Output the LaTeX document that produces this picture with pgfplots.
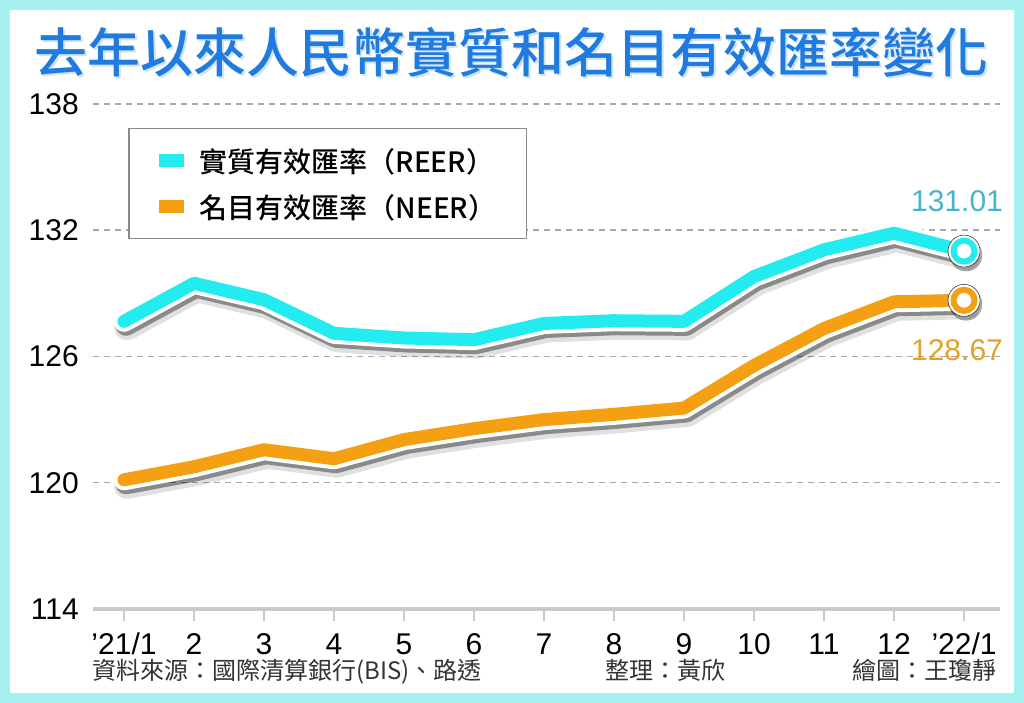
\documentclass[border=0pt]{standalone}
\usepackage{fontspec}
\usepackage{pgfplots}
\pgfplotsset{compat=1.18}
\setmainfont{Liberation Sans}
\newfontfamily\cjk{Noto Sans CJK TC}
\newfontfamily\cjkm{Noto Sans CJK TC Medium}
\definecolor{cyanc}{HTML}{22ECF0}
\definecolor{orangec}{HTML}{F5A012}
\definecolor{titleblue}{HTML}{1F7BDF}
\definecolor{labcyan}{HTML}{44B6CC}
\definecolor{laborange}{HTML}{E3A12B}
\definecolor{gridgray}{HTML}{A8A8A8}
\definecolor{axisgray}{HTML}{CACACA}
\definecolor{framec}{HTML}{A6F0F2}
\definecolor{srcgray}{HTML}{333333}
\definecolor{leggray}{HTML}{8A8A8A}
\pgfplotsset{
  shA/.style={forget plot, mark=none, draw=black, opacity=0.12, line width=26pt, xshift=3pt, yshift=-6pt, line join=round, line cap=round},
  shB/.style={forget plot, mark=none, draw=black, opacity=0.38, line width=21pt, xshift=2pt, yshift=-4pt, line join=round, line cap=round},
  whL/.style={forget plot, mark=none, draw=white, line width=21pt, line join=round, line cap=round},
  colL/.style={mark=none, draw=#1, line width=13pt, line join=round, line cap=round,
     legend image code/.code={\path[fill=#1, draw=none] (0pt,-6.5pt) rectangle (25pt,6.5pt);}},
}
\pgfplotstableread{
x reer neer
0 127.67 120.14
1 129.48 120.76
2 128.70 121.57
3 127.10 121.14
4 126.88 122.05
5 126.80 122.57
6 127.57 123.00
7 127.70 123.25
8 127.67 123.55
9 129.80 125.57
10 131.07 127.33
11 131.86 128.60
12 131.01 128.67
}\ratesdata
\begin{document}
\begin{tikzpicture}[x=1pt,y=1pt]
\fill[white] (0,0) rectangle (1024,703);
\draw[framec, line width=10pt] (5,5) rectangle (1019,698);
\node[font=\cjkm\fontsize{53}{53}\selectfont, text=titleblue!35, opacity=0.6] at (513,649) {去年以來人民幣實質和名目有效匯率變化};
\node[font=\cjkm\fontsize{53}{53}\selectfont, text=titleblue] at (511,651) {去年以來人民幣實質和名目有效匯率變化};
\begin{axis}[
  at={(93pt,94pt)}, anchor=south west, scale only axis,
  width=907pt, height=505pt,
  xmin=-0.443, xmax=12.514, ymin=114, ymax=138,
  clip=false,
  axis x line=bottom, axis y line=left,
  x axis line style={draw=axisgray, line width=4pt, -},
  y axis line style={draw=none},
  xtick={0,...,12},
  xticklabels={’21/1,2,3,4,5,6,7,8,9,10,11,12,’22/1},
  ytick={114,120,126,132,138},
  yticklabels={114,120,126,132,138},
  tick align=outside,
  major tick length=12pt,
  xtick style={draw=axisgray, line width=2pt},
  ytick style={draw=none},
  ymajorgrids,
  major grid style={draw=gridgray, line width=1.5pt, dash pattern=on 6pt off 5pt},
  xticklabel style={font=\fontsize{30}{30}\selectfont, anchor=base, inner sep=0pt, text depth=0pt, yshift=-34pt},
  yticklabel style={font=\fontsize{30}{30}\selectfont, anchor=east, inner sep=0pt, xshift=-2pt},
  legend style={at={(0.0386,0.9525)}, anchor=north west, draw=leggray, line width=1.5pt, fill=white,
    inner xsep=30pt, inner ysep=14pt, font=\cjkm\fontsize{28}{28}\selectfont, row sep=10pt,
    nodes={inner sep=0pt, text height=30pt, text depth=6pt},
    /tikz/every odd column/.append style={column sep=16pt}},
  legend cell align=left,
]
% REER
\addplot[shA] table[x=x,y=reer]{\ratesdata};
\addplot[shB] table[x=x,y=reer]{\ratesdata};
\addplot[whL] table[x=x,y=reer]{\ratesdata};
\addplot[colL=cyanc] table[x=x,y=reer]{\ratesdata};
\addlegendentry{實質有效匯率（REER）}
% NEER
\addplot[shA] table[x=x,y=neer]{\ratesdata};
\addplot[shB] table[x=x,y=neer]{\ratesdata};
\addplot[whL] table[x=x,y=neer]{\ratesdata};
\addplot[colL=orangec] table[x=x,y=neer]{\ratesdata};
\addlegendentry{名目有效匯率（NEER）}
% end markers
\addplot[forget plot, only marks, mark=*, mark size=16pt, mark options={draw=none, fill=black, opacity=0.3}, xshift=2pt, yshift=-4pt] coordinates {(12,131.01) (12,128.67)};
\addplot[forget plot, only marks, mark=*, mark size=16pt, mark options={draw=none, fill=white}] coordinates {(12,131.01) (12,128.67)};
\addplot[forget plot, only marks, mark=*, mark size=10.5pt, mark options={draw=cyanc, fill=white, line width=6pt}] coordinates {(12,131.01)};
\addplot[forget plot, only marks, mark=*, mark size=10.5pt, mark options={draw=orangec, fill=white, line width=6pt}] coordinates {(12,128.67)};
\end{axis}
\node[font=\fontsize{30}{30}\selectfont, text=labcyan] at (957,502) {131.01};
\node[font=\fontsize{30}{30}\selectfont, text=laborange] at (957,353) {128.67};
\node[anchor=base west, inner sep=0pt, text height=18pt, font=\cjk\fontsize{24}{24}\selectfont, text=srcgray] at (92,23) {資料來源：國際清算銀行(BIS)、路透};
\node[anchor=base west, inner sep=0pt, text height=18pt, font=\cjk\fontsize{24}{24}\selectfont, text=srcgray] at (605,23) {整理：黃欣};
\node[anchor=base east, inner sep=0pt, text height=18pt, font=\cjk\fontsize{24}{24}\selectfont, text=srcgray] at (997,23) {繪圖：王瓊靜};
\pgfresetboundingbox
\path (0,0) rectangle (1024,703);
\end{tikzpicture}
\end{document}
